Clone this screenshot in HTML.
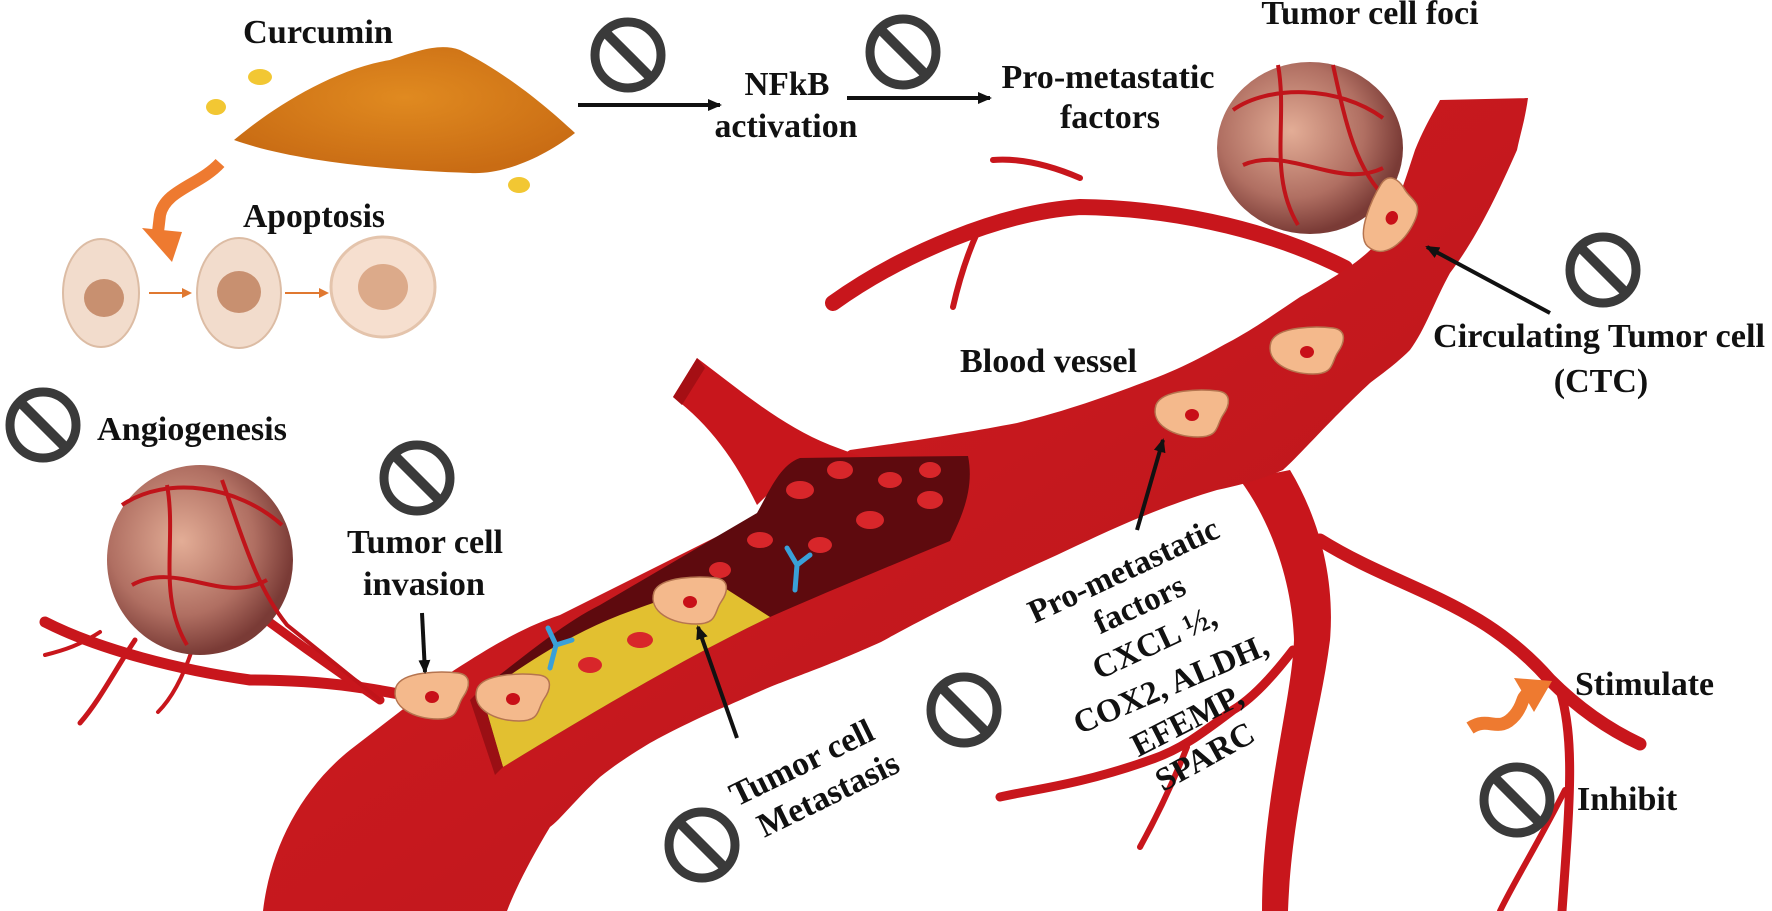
<!DOCTYPE html>
<html><head><meta charset="utf-8"><style>
html,body{margin:0;padding:0;background:#fff;}
svg{display:block;}
text{font-family:"Liberation Serif",serif;font-weight:bold;fill:#111;}
</style></head><body>
<svg width="1772" height="911" viewBox="0 0 1772 911" xmlns="http://www.w3.org/2000/svg">
<defs>
<marker id="ah" markerWidth="14" markerHeight="12" refX="12" refY="6" orient="auto" markerUnits="userSpaceOnUse"><path d="M0,0 L14,6 L0,12 z" fill="#111"/></marker>
<marker id="ah2" markerWidth="10" markerHeight="10" refX="8" refY="5" orient="auto" markerUnits="userSpaceOnUse"><path d="M0,0 L10,5 L0,10 z" fill="#e07830"/></marker>
<radialGradient id="tum" cx="40%" cy="40%" r="60%"><stop offset="0" stop-color="#e3ad96"/><stop offset="0.65" stop-color="#b06f62"/><stop offset="1" stop-color="#7a3b36"/></radialGradient>
<radialGradient id="pow" cx="50%" cy="40%" r="60%"><stop offset="0" stop-color="#e08a20"/><stop offset="1" stop-color="#c96c14"/></radialGradient>
<linearGradient id="ves" x1="0" y1="0" x2="1" y2="1"><stop offset="0" stop-color="#d41d22"/><stop offset="1" stop-color="#b8141a"/></linearGradient>
<g id="no"><circle r="33" fill="none" stroke="#3a3a3a" stroke-width="9"/><line x1="-22" y1="-22" x2="22" y2="22" stroke="#3a3a3a" stroke-width="10"/></g>
<g id="cell"><path d="M-36,-8 C-30,-24 10,-24 26,-22 C40,-20 38,-8 31,2 C24,12 28,24 6,24 C-18,24 -42,12 -36,-8z" fill="#f4b98c" stroke="#b5744f" stroke-width="1.5"/><ellipse cx="0" cy="2" rx="7" ry="6" fill="#c81018"/></g>
</defs>

<!-- thin branches -->
<g fill="none" stroke="#c8161c" stroke-linecap="round">
<path d="M1345,268 C1260,225 1160,208 1080,207 C1000,212 900,255 833,303" stroke-width="16"/>
<path d="M1080,178 C1050,165 1020,158 993,160" stroke-width="6"/>
<path d="M977,233 C965,260 958,285 953,307" stroke-width="6"/>
<path d="M1320,540 C1400,590 1480,600 1550,680 C1580,710 1610,730 1640,744" stroke-width="13"/>
<path d="M1560,690 C1575,740 1570,800 1562,911" stroke-width="9"/>
<path d="M1565,790 C1540,840 1515,880 1500,911" stroke-width="6"/>
<path d="M1293,650 C1270,680 1250,700 1233,710 C1200,735 1180,750 1150,760 C1080,785 1030,790 1000,797" stroke-width="9"/>
<path d="M1187,747 C1170,790 1155,820 1140,847" stroke-width="6"/>
<path d="M430,700 C380,690 330,680 250,680 C180,670 100,650 45,622" stroke-width="11"/>
<path d="M380,700 C320,660 280,630 226,590" stroke-width="9"/>
<path d="M135,640 C115,670 100,700 80,723" stroke-width="5"/>
<path d="M100,632 C80,645 65,650 45,655" stroke-width="4"/>
<path d="M192,650 C182,680 170,700 158,712" stroke-width="4"/>
</g>

<!-- trunk -->
<path d="M1240,480 L1290,470 C1320,520 1335,580 1330,640 C1320,720 1292,800 1288,911 L1262,911 C1262,800 1292,700 1294,640 C1292,580 1270,520 1240,480 Z" fill="#c8161c"/>

<!-- main vessel -->
<path d="M263,911 C270,850 300,790 350,750 L450,673 C500,640 530,625 560,615 L770,510 C800,490 830,462 850,450 C920,440 970,432 1017,423 C1070,410 1110,395 1150,380 C1190,365 1210,352 1233,340 C1260,325 1280,310 1300,297 C1330,280 1360,262 1375,245 C1395,215 1405,180 1415,150 C1425,125 1435,110 1440,100 L1528,98 C1525,120 1520,135 1517,150 C1495,200 1475,240 1450,273 C1435,300 1425,330 1410,350 C1395,365 1380,375 1370,383 C1330,420 1300,455 1283,470 C1260,480 1240,485 1217,490 C1150,510 1100,535 1057,555 C990,585 930,615 881,642 C830,665 800,675 770,687 C740,700 730,705 717,710 C690,722 670,732 650,743 C630,755 615,765 600,777 C575,800 560,820 550,827 C530,860 515,890 507,911 Z" fill="url(#ves)"/>
<!-- upward branch -->
<path d="M673,397 L697,358 C740,390 780,425 830,445 L870,460 L793,470 L757,505 C735,460 710,425 673,397 Z" fill="#c8161c"/>
<path d="M673,397 L697,358 L705,368 L682,405 Z" fill="#a50f14"/>
<!-- cutaway -->
<path d="M480,690 C520,660 560,625 600,605 L757,513 C770,490 780,465 800,458 L870,457 L968,456 C975,490 960,520 950,541 C880,570 820,595 770,617 C680,660 580,720 503,767 Z" fill="#5e0a0e"/>
<path d="M482,695 C530,660 570,635 620,615 C660,600 690,590 720,585 L770,617 C680,660 580,720 503,767 Z" fill="#e2c030"/>
<path d="M503,767 L480,690 L470,700 L495,775 Z" fill="#9a0f14"/>
<g fill="#d8262a">
<ellipse cx="800" cy="490" rx="14" ry="9"/><ellipse cx="840" cy="470" rx="13" ry="9"/><ellipse cx="890" cy="480" rx="12" ry="8"/><ellipse cx="930" cy="500" rx="13" ry="9"/><ellipse cx="870" cy="520" rx="14" ry="9"/><ellipse cx="760" cy="540" rx="13" ry="8"/><ellipse cx="820" cy="545" rx="12" ry="8"/><ellipse cx="640" cy="640" rx="13" ry="8"/><ellipse cx="590" cy="665" rx="12" ry="8"/><ellipse cx="720" cy="570" rx="11" ry="8"/><ellipse cx="930" cy="470" rx="11" ry="8"/>
</g>
<!-- antibodies -->
<g stroke="#3aa0d8" stroke-width="5" fill="none" stroke-linecap="round">
<path d="M795,590 L797,565 M797,565 L787,548 M797,565 L810,555"/>
<path d="M550,668 L556,645 M556,645 L548,628 M556,645 L572,640"/>
</g>

<!-- tumors -->
<ellipse cx="200" cy="560" rx="93" ry="95" fill="url(#tum)"/>
<ellipse cx="1310" cy="148" rx="93" ry="86" fill="url(#tum)"/>
<g fill="none" stroke="#c0141a" stroke-width="4">
<path d="M122,505 C167,475 237,485 282,525 M132,585 C177,560 222,605 267,580 M167,485 C177,540 157,595 187,645 M222,480 C242,535 255,585 287,625 L380,700"/>
<path d="M1233,110 C1268,85 1338,85 1383,118 M1243,165 C1288,145 1338,190 1383,168 M1278,65 C1288,120 1268,175 1298,225 M1333,65 C1345,120 1355,170 1388,200"/>
</g>

<!-- cells -->
<use href="#cell" x="432" y="695"/>
<use href="#cell" x="513" y="697"/>
<use href="#cell" x="690" y="600"/>
<use href="#cell" x="1192" y="413"/>
<use href="#cell" x="1307" y="350"/>
<g transform="translate(1390,217) rotate(-65)"><use href="#cell"/></g>

<!-- curcumin powder -->
<path d="M234,140 C270,110 330,70 390,60 C420,50 440,43 460,50 C510,75 550,110 575,133 C540,160 500,175 470,173 C380,170 290,160 234,140Z" fill="url(#pow)"/>
<ellipse cx="260" cy="77" rx="12" ry="8" fill="#f2c733"/>
<ellipse cx="216" cy="107" rx="10" ry="8" fill="#f2c733"/>
<ellipse cx="519" cy="185" rx="11" ry="8" fill="#f2c733"/>
<path d="M220,163 C200,185 165,190 160,215 L158,232" fill="none" stroke="#ee7a30" stroke-width="12"/>
<path d="M142,228 L182,232 L172,262 Z" fill="#ee7a30"/>

<!-- apoptosis cells -->
<ellipse cx="101" cy="293" rx="38" ry="54" fill="#f2dccc" stroke="#dcbca4" stroke-width="2"/>
<ellipse cx="104" cy="298" rx="20" ry="19" fill="#c89070"/>
<ellipse cx="239" cy="293" rx="42" ry="55" fill="#f2dccc" stroke="#dcbca4" stroke-width="2"/>
<ellipse cx="239" cy="292" rx="22" ry="21" fill="#c89070"/>
<ellipse cx="383" cy="287" rx="52" ry="50" fill="#f6dfcf" stroke="#e4c4ac" stroke-width="3"/>
<ellipse cx="383" cy="287" rx="25" ry="23" fill="#dcaa8a"/>
<line x1="149" y1="293" x2="190" y2="293" stroke="#e07830" stroke-width="2" marker-end="url(#ah2)"/>
<line x1="285" y1="293" x2="327" y2="293" stroke="#e07830" stroke-width="2" marker-end="url(#ah2)"/>

<!-- arrows -->
<g stroke="#111" stroke-width="4" fill="none" marker-end="url(#ah)">
<line x1="578" y1="105" x2="720" y2="105"/>
<line x1="847" y1="98" x2="990" y2="98"/>
<line x1="1550" y1="313" x2="1427" y2="247"/>
<line x1="1137" y1="530" x2="1163" y2="440"/>
<line x1="737" y1="738" x2="698" y2="627"/>
<line x1="422" y1="613" x2="425" y2="672"/>
</g>
<path d="M1470,728 C1490,715 1498,735 1515,715 C1525,702 1520,700 1528,693" fill="none" stroke="#ee7a30" stroke-width="13"/>
<path d="M1514,678 L1552,681 L1534,712 Z" fill="#ee7a30"/>

<!-- prohibit signs -->
<use href="#no" x="628" y="55"/>
<use href="#no" x="903" y="52"/>
<use href="#no" x="1603" y="270"/>
<use href="#no" x="43" y="425"/>
<use href="#no" x="417" y="478"/>
<use href="#no" x="964" y="710"/>
<use href="#no" x="702" y="845"/>
<use href="#no" x="1517" y="800"/>

<!-- labels -->
<g font-size="34">
<text x="318" y="43" text-anchor="middle" textLength="150" lengthAdjust="spacingAndGlyphs">Curcumin</text>
<text x="314" y="227" text-anchor="middle" textLength="142" lengthAdjust="spacingAndGlyphs">Apoptosis</text>
<text x="787" y="95" textLength="85" lengthAdjust="spacingAndGlyphs" text-anchor="middle">NFkB</text>
<text x="786" y="137" textLength="143" lengthAdjust="spacingAndGlyphs" text-anchor="middle">activation</text>
<text x="1108" y="88" textLength="213" lengthAdjust="spacingAndGlyphs" text-anchor="middle">Pro-metastatic</text>
<text x="1110" y="128" text-anchor="middle">factors</text>
<text x="1370" y="24" text-anchor="middle">Tumor cell foci</text>
<text x="1433" y="347" textLength="332" lengthAdjust="spacingAndGlyphs">Circulating Tumor cell</text>
<text x="1601" y="392" text-anchor="middle">(CTC)</text>
<text x="960" y="372" textLength="177" lengthAdjust="spacingAndGlyphs">Blood vessel</text>
<text x="97" y="440" textLength="190" lengthAdjust="spacingAndGlyphs">Angiogenesis</text>
<text x="425" y="553" text-anchor="middle" textLength="156" lengthAdjust="spacingAndGlyphs">Tumor cell</text>
<text x="424" y="595" text-anchor="middle" textLength="122" lengthAdjust="spacingAndGlyphs">invasion</text>
<text x="1575" y="695" textLength="139" lengthAdjust="spacingAndGlyphs">Stimulate</text>
<text x="1577" y="810">Inhibit</text>
<g transform="translate(810,780) rotate(-26)" text-anchor="middle"><text x="0" y="-8">Tumor cell</text><text x="10" y="32">Metastasis</text></g>
<g text-anchor="middle" font-size="33">
<text transform="translate(1128,580) rotate(-25)">Pro-metastatic</text>
<text transform="translate(1144,614) rotate(-25)">factors</text>
<text transform="translate(1159,652) rotate(-25)">CXCL ½,</text>
<text transform="translate(1175,694) rotate(-23)">COX2, ALDH,</text>
<text transform="translate(1192,730) rotate(-27)">EFEMP,</text>
<text transform="translate(1210,766) rotate(-29)">SPARC</text>
</g>
</g>
</svg>
</body></html>
